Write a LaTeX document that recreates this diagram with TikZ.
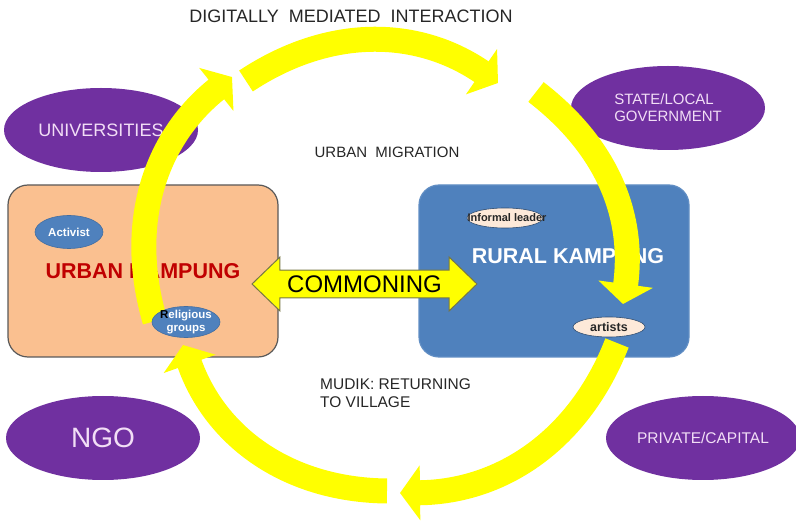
\documentclass[tikz,border=0pt]{standalone}
\usepackage{fontspec}
\setmainfont{Liberation Sans}
\usetikzlibrary{arrows.meta,shapes.geometric,shapes.arrows}

\definecolor{kpurple}{HTML}{7030A0}
\definecolor{klilac}{RGB}{242,222,246}
\definecolor{kpeach}{HTML}{FAC090}
\definecolor{kblue}{HTML}{4F81BD}
\definecolor{kcream}{HTML}{FDE9D9}
\definecolor{kred}{HTML}{C00000}
\definecolor{kyellow}{HTML}{FFFF00}
\definecolor{kolive}{RGB}{118,118,70}
\definecolor{kink}{RGB}{38,38,38}

\newcommand{\fs}[1]{\fontsize{#1}{#1}\selectfont}

\begin{document}
\begin{tikzpicture}[x=1pt,y=1pt,node distance=411pt,
  actor node/.style={ellipse,fill=kpurple,text=klilac,inner sep=0pt,
    minimum width=194pt,minimum height=84pt},
  kampung/.style={rectangle,rounded corners=20pt,minimum width=270pt,
    minimum height=172pt,line width=1.2pt},
  tag/.style={ellipse,inner sep=0pt,line width=0.6pt},
  tag text/.style={inner sep=0pt,font=\bfseries\fs{11.5},align=center},
  caption/.style={text=kink,inner sep=0pt},
  flow/.style={draw=kyellow,line width=25pt,-{Triangle[width=54pt,length=20pt]}}]

  \useasboundingbox (0,0) rectangle (796,520);

  % outside actors
  \node[actor node,font=\fs{18}] (uni) at (101,390) {UNIVERSITIES};
  \node[actor node,font=\fs{15},align=left] (gov) at (668,412) {STATE/LOCAL\\[2pt]GOVERNMENT};
  \node[actor node,font=\fs{28}] (ngo) at (103,82) {NGO};
  \node[actor node,font=\fs{15.5}] (capital) at (703,82) {PRIVATE/CAPITAL};

  % the two kampungs
  \node[kampung,draw=gray!70!black,fill=kpeach,text=kred,
    font=\bfseries\fs{21.5}] (urban) at (143,249) {URBAN KAMPUNG};
  \node[kampung,draw=kblue!90!white,fill=kblue] (rural) [right of=urban] {};
  \node[text=white,font=\bfseries\fs{21.5},inner sep=0pt] (rural-text) at (568,264) {RURAL KAMPUNG};

  \node[double arrow,draw=kolive,fill=kyellow,line width=1pt,
    double arrow head extend=13pt,double arrow tip angle=88,
    minimum height=225pt,inner ysep=5pt,inner xsep=4pt,font=\fs{24}]
    (commoning) at (364.5,236) {COMMONING};

  % the cycle
  \coordinate (l0) at (155,199);  \coordinate (l1) at (232,443);
  \coordinate (t0) at (246,439);  \coordinate (t1) at (498,437);
  \coordinate (r0) at (536,428);  \coordinate (r1) at (623,216);
  \coordinate (c0) at (617,177);  \coordinate (c1) at (400,27);
  \coordinate (d0) at (387,29);   \coordinate (d1) at (183,175);

  \draw[flow] (l0) to[bend left=34] (l1);
  \draw[flow] (t0) to[bend left=34] (t1);
  \draw[flow] (r0) to[bend left=30] (r1);
  \draw[flow] (c0) to[bend left=34] (c1);
  \draw[flow] (d0) to[bend left=35] (d1);

  % people inside
  \node[tag,fill=kblue,draw=kblue!85!black,minimum width=68pt,minimum height=33pt] (activist) at (69,288) {};
  \node[tag text,text=white] (activist-text) at (activist) {Activist};
  \node[tag,fill=kblue,draw=kblue!85!black,minimum width=68pt,minimum height=31pt] (religious) at (186,198) {};
  \node[tag text,text=white] (religious-text) at (religious) {{\color{black}R}eligious\\[1pt]groups};
  \node[tag,fill=kcream,draw=kblue!60!black,minimum width=76pt,minimum height=20pt] (leader) at (505,302) {};
  \node[tag text,text=kink,font=\bfseries\fs{11}] (leader-text) at (507,302) {Informal leader};
  \node[tag,fill=kcream,draw=kblue!60!black,minimum width=72pt,minimum height=20pt] (artists) at (609,193) {};
  \node[tag text,text=kink,font=\bfseries\fs{12.5}] (artists-text) at (artists) {artists};

  % captions
  \node[caption,font=\fs{18},anchor=base] (digital) at (351,497) {DIGITALLY\ \ MEDIATED\ \ INTERACTION};
  \node[caption,font=\fs{15},anchor=base] (migration) at (387,362) {URBAN\ \ MIGRATION};
  \node[caption,font=\fs{15.5},align=left,anchor=north west] (mudik) at (320,142)
    {MUDIK: RETURNING\\[3pt]TO VILLAGE};

\end{tikzpicture}
\end{document}
